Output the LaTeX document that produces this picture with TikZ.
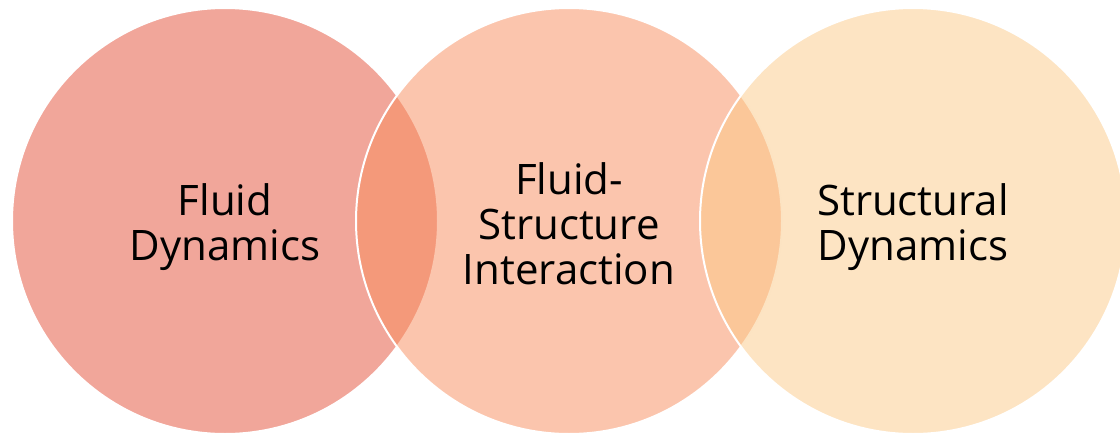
\documentclass[tikz,border=0pt]{standalone}
\usepackage{fontspec}
\setmainfont{Open Sans}
\usepackage{tikz}
\usetikzlibrary{positioning}

\definecolor{fdred}{HTML}{E34D36}
\definecolor{fsiorange}{HTML}{F88C5C}
\definecolor{sdsand}{HTML}{FBC987}

\begin{document}
\begin{tikzpicture}[x=1pt,y=-1pt,
                venn/.style={circle,minimum size=426pt,inner sep=0pt,
                        fill opacity=.5,draw=white,draw opacity=1,line width=2pt},
                lbl/.style={align=center,text=black,
                        font=\fontsize{42}{45}\selectfont},
                node distance=344pt]
                \useasboundingbox (0,0) rectangle (1120,434);
                \node[venn,fill=fdred] (fluid) at (225,221){};
                \node[venn,fill=fsiorange] (fsi)[right=of fluid.center,anchor=center]{};
                \node[venn,fill=sdsand] (struct)[right=of fsi.center,anchor=center]{};
                % labels
                \node[lbl,yshift=-6pt] (textfluid) at (fluid.center){Fluid\\Dynamics};
                \node[lbl,yshift=-3pt] (textfsi) at (fsi.center){Fluid-\\Structure\\Interaction};
                \node[lbl,yshift=-6pt] (textstruct) at (struct.center){Structural\\Dynamics};
            \end{tikzpicture}
\end{document}
